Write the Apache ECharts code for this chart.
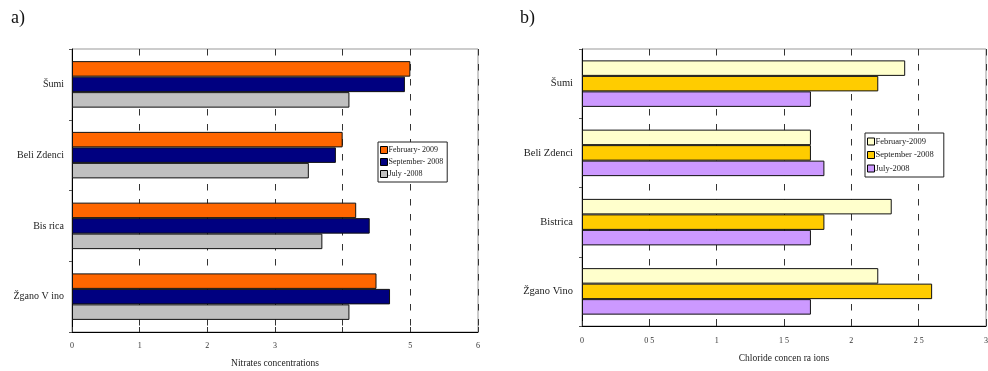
<!DOCTYPE html>
<html>
<head>
<meta charset="utf-8">
<script src="https://cdn.jsdelivr.net/npm/echarts@6/dist/echarts.min.js"></script>
<style>html,body{margin:0;padding:0;background:#fff}#c{width:988px;height:371px}</style>
</head>
<body>
<div id="c"></div>
<script>
// ---- data ----
const nitrateCategories = ['Šumi', 'Beli Zdenci', 'Bis rica', 'Žgano V ino'];
const chlorideCategories = ['Šumi', 'Beli Zdenci', 'Bistrica', 'Žgano Vino'];

const nitrateFeb2009 = [5.0, 4.0, 4.2, 4.5];
const nitrateSep2008 = [4.92, 3.9, 4.4, 4.7];
const nitrateJul2008 = [4.1, 3.5, 3.7, 4.1];

const chlorideFeb2009 = [2.4, 1.7, 2.3, 2.2];
const chlorideSep2008 = [2.2, 1.7, 1.8, 2.6];
const chlorideJul2008 = [1.7, 1.8, 1.7, 1.7];

const nitrateNames = ['February- 2009', 'September- 2008', 'July -2008'];
const chlorideNames = ['February-2009', 'September -2008', 'July-2008'];
const nitrateAxisTitle = 'Nitrates concentrations';
const chlorideAxisTitle = 'Chloride concen ra ions';

// ---- chart ----
const serif = '"Liberation Serif", "Times New Roman", serif';
const chart = echarts.init(document.getElementById('c'), null, {renderer: 'canvas'});

function xAxisCfg(gridIndex, max, interval, name, fmt, nameGap, labelMargin) {
  return {
    type: 'value', gridIndex, min: 0, max, interval,
    name, nameLocation: 'middle', nameGap,
    nameTextStyle: {fontFamily: serif, fontSize: 9.5, color: '#222'},
    axisLine: {show: true, lineStyle: {color: '#000', width: 1}},
    axisTick: {show: true, inside: true, length: 5, lineStyle: {color: '#333'}},
    axisLabel: {fontFamily: serif, fontSize: 8, color: '#333', margin: labelMargin, formatter: fmt},
    splitLine: {show: true, lineStyle: {color: '#333', width: 1, type: [6.5, 8.5]}}
  };
}
function yAxisCfg(gridIndex, data, margin, size) {
  return {
    type: 'category', gridIndex, data, inverse: true,
    axisLine: {show: true, lineStyle: {color: '#000', width: 1}},
    axisTick: {show: true, length: 3, lineStyle: {color: '#555'}},
    axisLabel: {fontFamily: serif, fontSize: size, color: '#222', margin},
    splitLine: {show: false}
  };
}
function barSeries(name, data, color, axisIndex) {
  return {
    name, type: 'bar', data, xAxisIndex: axisIndex, yAxisIndex: axisIndex,
    barWidth: 15.5, barGap: '0%',
    itemStyle: {color, borderColor: '#111', borderWidth: 1},
    emphasis: {disabled: true}, animation: false
  };
}
function legendCfg(names, left, top, colors, gap, padRight, fontSize) {
  return {
    data: names.map((n, i) => ({name: n, itemStyle: {color: colors[i], borderColor: '#000', borderWidth: 1}})),
    orient: 'vertical', left, top,
    itemWidth: 7, itemHeight: 7, itemGap: gap,
    icon: 'rect',
    padding: [4, padRight, 4, 2],
    backgroundColor: '#fff', borderColor: '#222', borderWidth: 1,
    textStyle: {fontFamily: serif, fontSize, color: '#222', padding: [0, 0, 0, -4]},
    selectedMode: false
  };
}

const nColors = ['#FF6600', '#000080', '#C0C0C0'];
const cColors = ['#FFFFCC', '#FFCC00', '#CC99FF'];

chart.setOption({
  backgroundColor: '#fff',
  animation: false,
  title: [
    {text: 'a)', left: 6, top: 4, textStyle: {fontFamily: serif, fontSize: 18, fontWeight: 'normal', color: '#111'}},
    {text: 'b)', left: 515, top: 4, textStyle: {fontFamily: serif, fontSize: 18, fontWeight: 'normal', color: '#111'}}
  ],
  grid: [
    {left: 72, top: 49, width: 406, height: 283, show: true, borderColor: '#999', borderWidth: 1, backgroundColor: 'transparent', outerBoundsMode: 'none', containLabel: false},
    {left: 582, top: 49, width: 404, height: 277, show: true, borderColor: '#999', borderWidth: 1, backgroundColor: 'transparent', outerBoundsMode: 'none', containLabel: false}
  ],
  xAxis: [
    xAxisCfg(0, 6, 1, nitrateAxisTitle, v => (v === 4 ? '' : String(v)), 26, 10),
    xAxisCfg(1, 3, 0.5, chlorideAxisTitle, v => String(v).replace('.', ' '), 27, 11)
  ],
  yAxis: [
    yAxisCfg(0, nitrateCategories, 8, 10),
    yAxisCfg(1, chlorideCategories, 9, 10.5)
  ],
  legend: [
    legendCfg(nitrateNames, 378, 142, nColors, 4, 4, 8),
    legendCfg(chlorideNames, 865, 133, cColors, 4.5, 10, 8.5)
  ],
  series: [
    barSeries(nitrateNames[0], nitrateFeb2009, nColors[0], 0),
    barSeries(nitrateNames[1], nitrateSep2008, nColors[1], 0),
    barSeries(nitrateNames[2], nitrateJul2008, nColors[2], 0),
    barSeries(chlorideNames[0], chlorideFeb2009, cColors[0], 1),
    barSeries(chlorideNames[1], chlorideSep2008, cColors[1], 1),
    barSeries(chlorideNames[2], chlorideJul2008, cColors[2], 1)
  ]
});
</script>
</body>
</html>
